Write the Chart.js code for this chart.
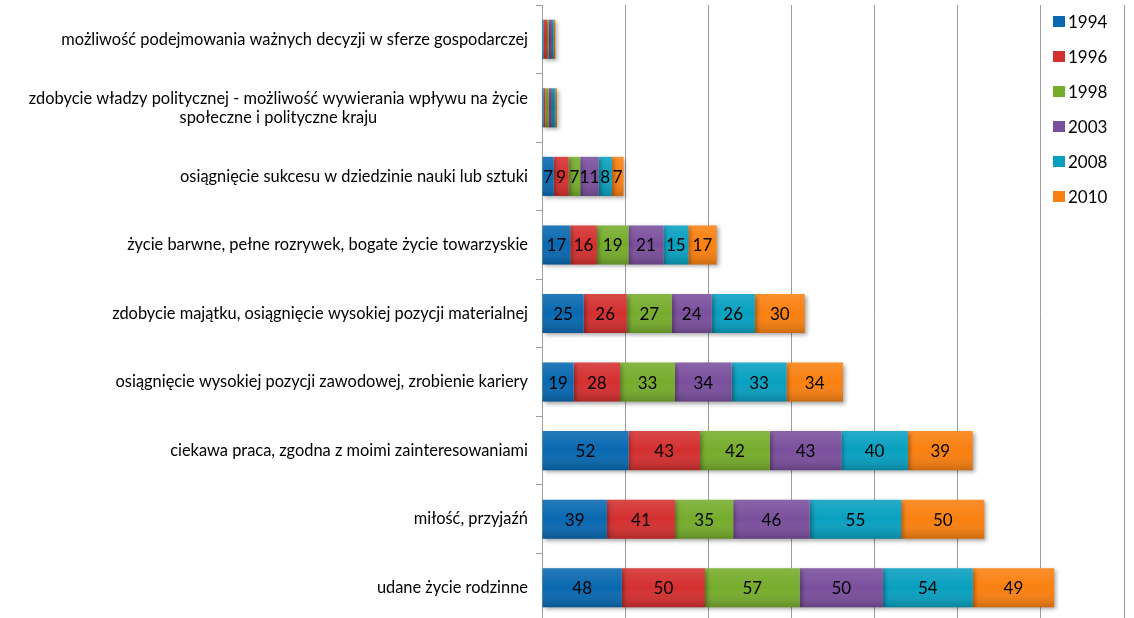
<!DOCTYPE html>
<html>
<head>
<meta charset="utf-8">
<script src="https://cdn.jsdelivr.net/npm/chart.js@4/dist/chart.umd.min.js"></script>
<style>
  html, body { margin: 0; padding: 0; background: #fff; overflow: hidden; }
  #wrap { width: 1134px; height: 622px; }
</style>
</head>
<body>
<div id="wrap"><canvas id="chartJS"></canvas></div>
<script>
const categories = [
    ['możliwość podejmowania ważnych decyzji w sferze gospodarczej'],
    ['zdobycie władzy politycznej - możliwość wywierania wpływu na życie', 'społeczne i polityczne kraju'],
    ['osiągnięcie sukcesu w dziedzinie nauki lub sztuki'],
    ['życie barwne, pełne rozrywek, bogate życie towarzyskie'],
    ['zdobycie majątku, osiągnięcie wysokiej pozycji materialnej'],
    ['osiągnięcie wysokiej pozycji zawodowej, zrobienie kariery'],
    ['ciekawa praca, zgodna z moimi zainteresowaniami'],
    ['miłość, przyjaźń'],
    ['udane życie rodzinne']
];

const years = ['1994', '1996', '1998', '2003', '2008', '2010'];

const v1994 = [1, 1, 7, 17, 25, 19, 52, 39, 48];
const v1996 = [2, 1, 9, 16, 26, 28, 43, 41, 50];
const v1998 = [1, 2, 7, 19, 27, 33, 42, 35, 57];
const v2003 = [2, 2, 11, 21, 24, 34, 43, 46, 50];
const v2008 = [1, 2, 8, 15, 26, 33, 40, 55, 54];
const v2010 = [1, 1, 7, 17, 30, 34, 39, 50, 49];

const xTicks = [0, 50, 100, 150, 200, 250, 300, 350];

const colors = ['#0868b0', '#d42f2f', '#76ac2c', '#7a4f9c', '#08a0c0', '#fa8010'];
const series = [v1994, v1996, v1998, v2003, v2008, v2010];

const FONT = 'Lato, "Open Sans", sans-serif';

// cienie i lekki gradient na slupkach
const barStyle = {
    id: 'barStyle',
    beforeDatasetsDraw(chart) {
        const ctx = chart.ctx;
        ctx.save();
        ctx.shadowColor = 'rgba(0,0,0,0.35)';
        ctx.shadowBlur = 4;
        ctx.shadowOffsetX = 2;
        ctx.shadowOffsetY = 2;
    },
    afterDatasetsDraw(chart) {
        const ctx = chart.ctx;
        ctx.restore();
        chart.data.datasets.forEach((ds, i) => {
            chart.getDatasetMeta(i).data.forEach(bar => {
                const top = bar.y - bar.height / 2;
                const left = Math.min(bar.x, bar.base);
                const w = Math.abs(bar.x - bar.base);
                const g = ctx.createLinearGradient(0, top, 0, top + bar.height);
                g.addColorStop(0, 'rgba(255,255,255,0.12)');
                g.addColorStop(0.5, 'rgba(255,255,255,0)');
                g.addColorStop(1, 'rgba(0,0,0,0.18)');
                ctx.fillStyle = g;
                ctx.fillRect(left, top, w, bar.height);
            });
        });
    }
};

// wartosci w srodku slupkow
const valueLabels = {
    id: 'valueLabels',
    afterDatasetsDraw(chart) {
        const ctx = chart.ctx;
        ctx.save();
        ctx.font = '17px ' + FONT;
        ctx.fillStyle = '#000';
        ctx.textAlign = 'center';
        ctx.textBaseline = 'middle';
        chart.data.datasets.forEach((ds, i) => {
            chart.getDatasetMeta(i).data.forEach((bar, j) => {
                const v = ds.data[j];
                if (v < 5) return;
                ctx.fillText(String(v), (bar.x + bar.base) / 2, bar.y + 1);
            });
        });
        ctx.restore();
    }
};

// etykiety kategorii (wyrownane do prawej, linie wysrodkowane w bloku)
const catLabels = {
    id: 'catLabels',
    afterDraw(chart) {
        const ctx = chart.ctx;
        const y = chart.scales.y;
        const right = 528;
        const lh = 19;
        ctx.save();
        ctx.font = '16.4px ' + FONT;
        ctx.fillStyle = '#000';
        ctx.textBaseline = 'middle';
        ctx.textAlign = 'center';
        categories.forEach((lines, i) => {
            const cy = y.getPixelForValue(i);
            const w = Math.max(...lines.map(l => ctx.measureText(l).width));
            const cx = right - w / 2;
            const y0 = cy - (lines.length - 1) * lh / 2;
            lines.forEach((l, k) => ctx.fillText(l, cx, y0 + k * lh));
        });
        ctx.restore();
    }
};

// legenda w prawym gornym rogu
const legendBox = {
    id: 'legendBox',
    afterDraw(chart) {
        const ctx = chart.ctx;
        ctx.save();
        ctx.font = '17px ' + FONT;
        ctx.textBaseline = 'middle';
        ctx.textAlign = 'left';
        years.forEach((yr, i) => {
            const cy = 22 + i * 35;
            ctx.fillStyle = colors[i];
            ctx.fillRect(1053, cy - 6, 12, 11);
            ctx.fillStyle = '#000';
            ctx.fillText(yr, 1068, cy + 1);
        });
        ctx.restore();
    }
};

const data = {
    labels: categories.map(c => c.join(' ')),
    datasets: years.map((yr, i) => ({
        label: yr,
        data: series[i],
        backgroundColor: colors[i],
        borderWidth: 0,
        barPercentage: 0.57,
        categoryPercentage: 1
    }))
};

const config = {
    type: 'bar',
    data: data,
    options: {
        indexAxis: 'y',
        responsive: true,
        maintainAspectRatio: false,
        animation: false,
        layout: { padding: { top: 5, right: 10, left: 0, bottom: 0 } },
        plugins: {
            legend: { display: false },
            tooltip: { enabled: false }
        },
        scales: {
            x: {
                stacked: true,
                min: 0,
                max: 350,
                afterBuildTicks: s => { s.ticks = xTicks.map(v => ({ value: v })); },
                ticks: { display: false },
                grid: { color: '#9c9c9c', lineWidth: 1, drawTicks: false },
                border: { display: false }
            },
            y: {
                stacked: true,
                ticks: { display: false },
                grid: { drawOnChartArea: false, color: '#9c9c9c', tickLength: 6 },
                border: { color: '#9c9c9c' },
                afterFit: s => { s.width = 542; }
            }
        }
    },
    plugins: [barStyle, valueLabels, catLabels, legendBox]
};

const myChart = new Chart(document.getElementById('chartJS'), config);
</script>
</body>
</html>
